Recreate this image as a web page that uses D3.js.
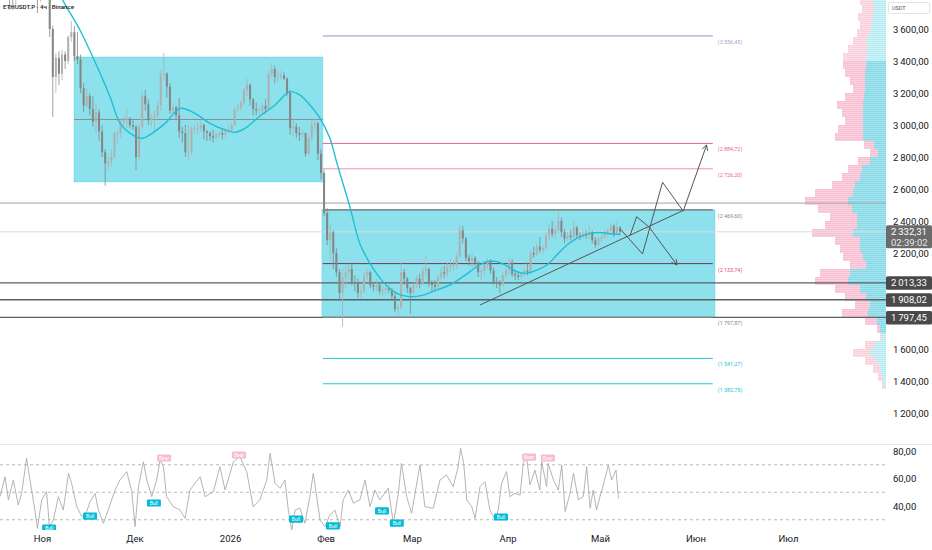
<!DOCTYPE html>
<html>
<head>
<meta charset="utf-8">
<script src="https://cdn.jsdelivr.net/npm/d3@7"></script>
<style>
  body { margin: 0; background: #fff; }
  svg { display: block; font-family: Roboto, "Noto Sans", sans-serif; }
</style>
</head>
<body>
<div class="main"></div>
<script>
// ---- données ----
const baseDate = new Date(2025, 10, 1);     // 1 nov. 2025 (jour 0 des dessins)
const candleStart = new Date(2025, 9, 18);  // premier chandelier (jour 0 des bougies)

// bougies journalières : plus haut / plus bas / clôture
const highs = [
  3950,4000,4050,4100,3900,3900,3960,3960,4180,4250,
  4150,4030,3910,3900,3900,3920,3850,3620,3450,3460,
  3470,3460,3560,3650,3620,3580,3440,3260,3230,3200,
  3180,3130,3100,3000,2850,2800,2850,2960,2970,3040,
  3060,3100,3050,3030,3000,3010,3210,3220,3160,3070,
  3090,3150,3340,3450,3330,3260,3140,3120,3170,2990,
  3000,3000,2990,3000,3020,3030,3010,2970,2960,2970,
  2950,2960,2980,2980,3000,3010,3110,3130,3150,3230,
  3290,3260,3170,3140,3110,3140,3160,3340,3390,3370,
  3340,3340,3330,3300,3220,3040,3010,2990,2970,2950,
  2940,3030,3040,3020,2850,2720,2480,2380,2340,2230,
  2100,2100,2120,2130,2140,2060,2040,2000,2080,2100,
  2090,2020,2040,2010,1990,2000,1990,1980,1960,1880,
  2140,2100,2050,1990,2010,2060,2070,2110,2180,2110,
  2030,2030,2060,2110,2120,2140,2160,2150,2200,2380,
  2370,2300,2190,2200,2180,2150,2110,2150,2170,2160,
  2110,2050,2030,2080,2110,2170,2160,2090,2080,2080,
  2110,2140,2220,2240,2260,2300,2250,2330,2380,2400,
  2370,2460,2420,2350,2330,2340,2400,2370,2330,2340,
  2340,2370,2340,2300,2300,2320,2340,2350,2390,2380,
  2400,2370
];
const lows = [
  3850,3850,3900,3720,3720,3750,3830,3880,3920,4100,
  3930,3870,3700,3770,3840,3800,3550,3050,3200,3250,
  3280,3350,3380,3520,3400,3380,3200,3080,3110,3060,
  2990,2950,2900,2800,2620,2720,2740,2790,2880,2920,
  2990,2980,2980,2970,2720,2780,2980,3090,3000,2990,
  2950,3030,3090,3280,3170,3070,3070,3040,2920,2890,
  2800,2780,2810,2950,2940,2960,2910,2900,2900,2890,
  2910,2920,2910,2920,2950,2960,2990,3080,3090,3120,
  3180,3120,3060,3060,3070,3070,3070,3090,3300,3260,
  3270,3280,3280,3180,2940,2930,2920,2900,2920,2800,
  2810,2900,2970,2780,2660,2430,2250,2150,2100,2050,
  1900,1740,1980,2030,2000,1960,1920,1920,1950,2030,
  1980,1960,1960,1940,1930,1940,1950,1900,1830,1800,
  1850,2000,1950,1820,1940,1980,1980,2000,2060,1990,
  1960,1960,1980,2030,2040,2050,2080,2090,2100,2170,
  2260,2150,2120,2110,2120,2050,2030,2060,2100,2070,
  2000,1980,1950,1990,2040,2060,2050,2030,2030,2040,
  2050,2060,2080,2170,2180,2200,2190,2220,2280,2300,
  2290,2320,2300,2260,2270,2280,2290,2290,2280,2290,
  2290,2290,2260,2230,2240,2270,2290,2300,2320,2300,
  2320,2310
];
const closes = [
  3890,3980,3970,3880,3800,3860,3930,3940,4150,4120,
  3980,3900,3800,3850,3880,3830,3600,3300,3420,3320,
  3440,3400,3550,3580,3430,3410,3230,3120,3180,3100,
  3020,3080,2960,2830,2760,2770,2800,2950,2950,3020,
  3030,3040,3000,2990,2800,2990,3180,3130,3030,3050,
  3060,3120,3320,3320,3240,3090,3110,3060,2960,2950,
  2830,2830,2980,2980,2980,3000,2960,2950,2930,2920,
  2940,2950,2940,2970,2970,3000,3100,3110,3140,3220,
  3250,3160,3100,3090,3090,3120,3100,3320,3350,3300,
  3300,3310,3290,3200,2980,2990,2950,2940,2950,2820,
  2920,3000,3010,2820,2700,2450,2280,2330,2200,2080,
  1950,2050,2080,2100,2020,2010,1950,1960,2060,2080,
  2000,1990,2000,1960,1970,1980,1970,1930,1850,1860,
  2080,2040,1980,1950,2000,2040,2010,2090,2100,2010,
  2000,1990,2050,2080,2070,2110,2120,2130,2180,2340,
  2290,2170,2150,2170,2140,2080,2090,2130,2150,2090,
  2020,2010,2000,2060,2090,2140,2070,2060,2050,2070,
  2090,2080,2200,2190,2240,2220,2230,2310,2350,2320,
  2340,2400,2330,2290,2310,2300,2360,2310,2300,2320,
  2310,2330,2280,2250,2290,2300,2320,2340,2370,2320,
  2360,2332.31
];
const firstOpen = 3900;

// moyenne mobile (courbe cyan) : jour depuis le 1 nov., valeur
const maDays   = [5, 6.5, 12.3, 18.8, 22.1, 25.3, 29.5, 32.4, 35.7, 39.9, 44.8, 49.6, 54.5, 59.4, 62.6, 65.8, 70.7, 75.6, 80.4, 83.7, 86.9, 90.2, 93.4, 95.7, 99.9, 103.1, 106.4, 110.6, 115.1, 119.4, 123.6, 128.1, 132.3, 136.6, 141.1, 144.3, 147.6, 150.8, 154.1, 157.3, 160.6, 163.8, 167, 170.3, 173.5, 177.8, 182, 185.2, 187.5];
const maValues = [3880, 3790, 3594, 3325, 3175, 3012, 2937, 2917, 2948, 3010, 3104, 3073, 3010, 2969, 2954, 2979, 3056, 3125, 3208, 3187, 3125, 3042, 2917, 2760, 2487, 2260, 2135, 2021, 1948, 1927, 1937, 1969, 2000, 2052, 2115, 2146, 2146, 2119, 2083, 2073, 2094, 2125, 2187, 2250, 2292, 2323, 2327, 2317, 2317];

// RSI : jour depuis le 18 oct., valeur
const rsiDays = [0.4,2,3.1,4.7,6.3,7.4,9,10.1,11.7,12.5,13.9,15.5,16.4,17.7,19.3,20.9,22.6,23.6,25.3,26.9,28.5,29.6,31.2,32.3,33.9,35.5,37.7,39.3,41.5,43.1,44.2,45.3,46.9,48,49.6,51.2,52.3,53.4,54.4,56.6,58.8,60.4,62,65.3,66.9,69.6,71.7,73.4,76.1,78.2,80.4,82.5,84.7,86.9,88,89.6,91.2,92.8,93.9,95,96.1,97.7,99.3,100.9,102,103.1,104.2,105.8,107.4,109,110.7,111.7,113.4,115,117.1,118.8,120.4,122,123.6,126.3,128,129.6,130.6,132.3,133.9,136.6,138.2,140.9,143.1,145.2,147.4,149,149.8,150.8,151.8,153.4,154.5,156.1,157.7,159.3,161,162,163.1,164.7,165.8,167.4,169.1,170.1,171.2,172.3,173.9,175.5,176.1,177.7,178.2,179.9,181.5,182.6,183.7,185.3,186.4,188,189.6,190.7,191.8,192.8,193.9,195,196.1,197.7,198.8,200.2,201];
const rsiValues = [46.8,61.3,44.4,58.9,40.7,49.2,74.7,58.9,37.1,23.8,44.4,50.4,25,29.8,46.8,37.1,63.8,56.5,39.5,32.3,35.9,43.2,49.2,37.1,27.4,37.1,51.6,58.9,65,50.4,25,54.1,72.2,58.9,46.8,58.9,73.5,68.6,46.8,39.5,37.1,31,51.6,61.3,46.8,50.4,68.6,51.6,72.2,75.9,65,39.5,44.4,58.9,78.3,56.5,52.9,58.9,37.1,22.5,37.1,38.3,27.4,46.8,63.8,46.8,29.8,25,33.5,37.1,25,44.4,51.6,42,44.4,58.9,39.5,51.6,44.4,52.9,27.4,49.2,71,46.8,34.7,69.8,39.5,38.3,58.9,62.6,54.1,68.6,82,71,44.4,39.5,31,54.1,57.7,37.1,29.8,37.1,56.5,65,46.8,49.2,48,71,75.9,55.3,66.2,51.6,72.2,54.1,71,58.9,51.6,69.8,35.9,49.2,63.8,44.4,46.8,68.6,38.3,51.6,37.1,46.8,55.3,69.8,58.9,66.2,45.6];

// étiquettes Bull / Bear du RSI : jour depuis le 1 nov., niveau
const divLabels = [
  { type: "Bull", day: 2.3,   level: 24   },
  { type: "Bull", day: 15.6,  level: 32.7 },
  { type: "Bull", day: 36.3,  level: 42.2 },
  { type: "Bear", day: 39.6,  level: 74.9 },
  { type: "Bear", day: 63.9,  level: 77.1 },
  { type: "Bull", day: 82.4,  level: 30.5 },
  { type: "Bull", day: 94.4,  level: 25.5 },
  { type: "Bull", day: 110.3, level: 36.4 },
  { type: "Bull", day: 115.1, level: 27.6 },
  { type: "Bull", day: 148.9, level: 32   },
  { type: "Bear", day: 158,   level: 75.6 },
  { type: "Bear", day: 164.1, level: 74.9 }
];

// rectangles (jour début, jour fin, haut, bas)
const boxes = [
  { d0: 10.4, d1: 91.1,  top: 3425,   bottom: 2644,    mid: true  },
  { d0: 90.8, d1: 218.3, top: 2469.6, bottom: 1797.87, mid: false }
];

// niveaux de Fibonacci
const fibStart = 91.1, fibEnd = 217.6;
const fibLevels = [3556.45, 2884.72, 2726.20, 2469.60, 2133.74, 1797.87, 1541.27, 1382.75];
const fibColors = ["#9b8fd3", "#f06292", "#f48fb1", "#6f6f6f", "#7a3552", "#8a8a8a", "#26c6da", "#26c6da"];
const fibLabelColors = ["#a9a3cf", "#f06292", "#f06292", "#8a8a8a", "#e0507a", "#8a8a8a", "#26c6da", "#26c6da"];

// lignes horizontales sur toute la largeur
const hLines = [2512, 2332.31, 2013.33, 1908.02, 1797.45];
const hLineColors = ["#a3a3a3", "#dcdcdc", "#5f5f5f", "#5f5f5f", "#5f5f5f"];

// ligne de tendance et scénarios
const trendLine = [[142.1, 1875], [207.9, 2465]];
const bullPath  = [[187.7, 2348], [194.8, 2194], [201.3, 2642], [208, 2462], [215.6, 2875]];
const bearPath  = [[190.7, 2306], [192.9, 2427], [197, 2361], [206, 2125]];

// profil de volume (prix du palier, volumes achat / vente)
const vpPrices = d3.range(3775, 1374, -50);
const vpBuy  = [13,12,14,14,16,19,19,20,20,21, 21,21,22,23,23,23,23,23,12,8, 16,24,26,31,33,38,34,29,29,33, 26,26,23,20,36,38,26,20,16,18, 9,6,4,11,16,9,6,4,2];
const vpSell = [13,12,14,12,13,14,19,23,23,20, 15,12,19,26,21,18,25,28,10,8, 12,14,18,23,38,43,34,27,32,41, 25,20,20,16,30,33,25,21,15,26, 12,3,2,10,17,12,7,4,2];
const vpValueArea = [1725, 3375];

// axes (1 800 et 2 000 sont masqués par les étiquettes de prix)
const priceTicks = [1200, 1400, 1600, 2200, 2400, 2600, 2800, 3000, 3200, 3400, 3600];
const rsiTicks = [40, 60, 80];
const rsiGuides = [70, 50, 30];
const timeTicks = [new Date(2025,10,1), new Date(2025,11,1), new Date(2026,0,1), new Date(2026,1,1), new Date(2026,2,1), new Date(2026,3,1), new Date(2026,4,1), new Date(2026,5,1), new Date(2026,6,1)];
const timeLabels = ["Ноя", "Дек", "2026", "Фев", "Мар", "Апр", "Май", "Июн", "Июл"];

// étiquettes de prix à droite
const priceTags = [
  { price: 2332.31, sub: "02:39:02", fill: "#6b6b6b" },
  { price: 2013.33, fill: "#4a4a4a" },
  { price: 1908.02, fill: "#4a4a4a" },
  { price: 1797.45, fill: "#4a4a4a" }
];

// ---- mise en page ----
const width = 932, height = 550;
const paneRight = 886;
const priceBottom = 443, rsiTop = 446, rsiBottom = 530;

const ru = d3.formatLocale({ decimal: ",", thousands: "\u2009", grouping: [3], currency: ["", ""] });
const fmt = ru.format(",.2f");
const day = (base, d) => new Date(base.getTime() + d * 864e5);

const x = d3.scaleTime().domain([new Date(2025,10,1), new Date(2026,6,1)]).range([42, 788]);
const y = d3.scaleLinear().domain([1200, 3600]).range([413, 29]);
const yr = d3.scaleLinear().domain([40, 80]).range([506, 451]);
const vx = d3.scaleLinear().domain([0, 100]).range([0, 100]);

const svg = d3.select('.main').append('svg')
  .attr('width', width).attr('height', height);

const defs = svg.append('defs');
defs.append('clipPath').attr('id', 'clipPrice')
  .append('rect').attr('x', 0).attr('y', 0).attr('width', paneRight).attr('height', priceBottom);
defs.append('clipPath').attr('id', 'clipRsi')
  .append('rect').attr('x', 0).attr('y', rsiTop).attr('width', paneRight).attr('height', rsiBottom - rsiTop);

// motifs rayés du profil de volume
function stripe(id, base, light) {
  const p = defs.append('pattern').attr('id', id).attr('patternUnits', 'userSpaceOnUse')
    .attr('width', 4).attr('height', 2);
  p.append('rect').attr('width', 4).attr('height', 2).attr('fill', base);
  p.append('rect').attr('width', 4).attr('height', 0.7).attr('fill', light);
}
stripe('vpBuyIn', '#85d9e6', '#b8eaf1');
stripe('vpBuyOut', '#b5ebf2', '#daf5f8');
stripe('vpSellIn', '#f8bfd2', '#fcdbe6');
stripe('vpSellOut', '#fad0dd', '#fde5ec');

const pane = svg.append('g').attr('clip-path', 'url(#clipPrice)');

// rectangles
boxes.forEach(b => {
  pane.append('rect')
    .attr('x', x(day(baseDate, b.d0))).attr('y', y(b.top))
    .attr('width', x(day(baseDate, b.d1)) - x(day(baseDate, b.d0)))
    .attr('height', y(b.bottom) - y(b.top))
    .attr('fill', 'rgba(0,188,212,0.45)')
    .attr('stroke', 'rgba(0,188,212,0.25)');
  if (b.mid) {
    pane.append('line')
      .attr('x1', x(day(baseDate, b.d0))).attr('x2', x(day(baseDate, b.d1)))
      .attr('y1', y((b.top + b.bottom) / 2)).attr('y2', y((b.top + b.bottom) / 2))
      .attr('stroke', '#8c8c8c').attr('stroke-width', 1);
  }
});

// profil de volume
const vp = pane.append('g');
vpPrices.forEach((p, i) => {
  const inside = p >= vpValueArea[0] && p <= vpValueArea[1];
  const top = y(p + 25), h = y(p - 25) - y(p + 25);
  const wb = vx(vpBuy[i]), ws = vx(vpSell[i]);
  vp.append('rect').attr('x', paneRight - wb - ws).attr('y', top).attr('width', ws).attr('height', h)
    .attr('fill', inside ? 'url(#vpSellIn)' : 'url(#vpSellOut)');
  vp.append('rect').attr('x', paneRight - wb).attr('y', top).attr('width', wb).attr('height', h)
    .attr('fill', inside ? 'url(#vpBuyIn)' : 'url(#vpBuyOut)');
});

// lignes horizontales
hLines.forEach((p, i) => {
  pane.append('line').attr('x1', 0).attr('x2', paneRight)
    .attr('y1', y(p)).attr('y2', y(p))
    .attr('stroke', hLineColors[i]).attr('stroke-width', i >= 2 ? 1.4 : 1);
});

// niveaux de Fibonacci
fibLevels.forEach((p, i) => {
  pane.append('line')
    .attr('x1', x(day(baseDate, fibStart))).attr('x2', x(day(baseDate, fibEnd)))
    .attr('y1', y(p)).attr('y2', y(p))
    .attr('stroke', fibColors[i]).attr('stroke-width', (i === 3) ? 1.4 : 1);
  pane.append('text')
    .attr('x', x(day(baseDate, fibEnd)) + 5).attr('y', y(p) + 8)
    .attr('font-size', 5.5).attr('fill', fibLabelColors[i])
    .text('(' + fmt(p) + ')');
});

// bougies
const candles = closes.map((c, i) => ({
  date: day(candleStart, i + 0.5),
  open: i ? closes[i - 1] : firstOpen,
  high: highs[i], low: lows[i], close: c
}));
const cg = pane.append('g');
cg.selectAll('line').data(candles).join('line')
  .attr('x1', d => x(d.date)).attr('x2', d => x(d.date))
  .attr('y1', d => y(d.high)).attr('y2', d => y(d.low))
  .attr('stroke', d => d.close >= d.open ? '#b0b0b0' : '#858585')
  .attr('stroke-width', 0.8);
cg.selectAll('rect').data(candles).join('rect')
  .attr('x', d => x(d.date) - 1).attr('width', 2)
  .attr('y', d => y(Math.max(d.open, d.close)))
  .attr('height', d => Math.max(0.8, Math.abs(y(d.open) - y(d.close))))
  .attr('fill', d => d.close >= d.open ? '#b0b0b0' : '#858585');

// moyenne mobile
const maLine = d3.line()
  .x((d, i) => x(day(baseDate, maDays[i])))
  .y(d => y(d))
  .curve(d3.curveCatmullRom);
pane.append('path').datum(maValues)
  .attr('fill', 'none').attr('stroke', '#1fbfd6').attr('stroke-width', 1.4)
  .attr('d', maLine);

// tendance et scénarios
const drawLine = d3.line().x(d => x(day(baseDate, d[0]))).y(d => y(d[1]));
[trendLine, bullPath, bearPath].forEach(pts => {
  pane.append('path').datum(pts)
    .attr('fill', 'none').attr('stroke', '#555').attr('stroke-width', 1)
    .attr('d', drawLine);
});
function arrowHead(pts) {
  const a = pts[pts.length - 2], b = pts[pts.length - 1];
  const x1 = x(day(baseDate, a[0])), y1 = y(a[1]);
  const x2 = x(day(baseDate, b[0])), y2 = y(b[1]);
  const ang = Math.atan2(y2 - y1, x2 - x1), L = 6;
  const p = d3.path();
  p.moveTo(x2 - L * Math.cos(ang - 0.5), y2 - L * Math.sin(ang - 0.5));
  p.lineTo(x2, y2);
  p.lineTo(x2 - L * Math.cos(ang + 0.5), y2 - L * Math.sin(ang + 0.5));
  pane.append('path').attr('d', p.toString()).attr('fill', 'none')
    .attr('stroke', '#555').attr('stroke-width', 1);
}
arrowHead(bullPath);
arrowHead(bearPath);

// légende en haut à gauche
svg.append('text').attr('x', 3).attr('y', 9)
  .attr('font-size', 6.2).attr('font-weight', 500).attr('fill', '#131722')
  .text('ETHUSDT.P · 4ч · Binance');

// séparation des panneaux
svg.append('line').attr('x1', 0).attr('x2', width).attr('y1', 444.5).attr('y2', 444.5)
  .attr('stroke', '#e6e8ee');

// ---- RSI ----
const rsiPane = svg.append('g').attr('clip-path', 'url(#clipRsi)');
rsiGuides.forEach(v => {
  rsiPane.append('line').attr('x1', 0).attr('x2', paneRight)
    .attr('y1', yr(v)).attr('y2', yr(v))
    .attr('stroke', '#b9b9b9').attr('stroke-dasharray', '3,3');
});
const rsiLine = d3.line()
  .x((d, i) => x(day(candleStart, rsiDays[i])))
  .y(d => yr(d));
rsiPane.append('path').datum(rsiValues)
  .attr('fill', 'none').attr('stroke', '#acacac').attr('stroke-width', 0.9)
  .attr('d', rsiLine);
const lab = rsiPane.selectAll('g.div').data(divLabels).join('g')
  .attr('transform', d => `translate(${x(day(baseDate, d.day))},${yr(d.level)})`);
lab.append('rect').attr('x', -7).attr('y', -3.6).attr('width', 14).attr('height', 7.2).attr('rx', 1.2)
  .attr('fill', d => d.type === 'Bull' ? '#00bcd4' : '#f8bbd0');
lab.append('text').attr('text-anchor', 'middle').attr('y', 1.8)
  .attr('font-size', 5).attr('fill', '#fff')
  .text(d => d.type);

// ---- axes ----
const ax = svg.append('g').attr('transform', 'translate(0,535.5)')
  .call(d3.axisBottom(x).tickValues(timeTicks).tickFormat((d, i) => timeLabels[i]).tickSize(0).tickPadding(0));
ax.select('.domain').remove();
ax.selectAll('text').attr('font-size', 9.5).attr('fill', '#131722').attr('font-family', 'Roboto, sans-serif');

const ay = svg.append('g').attr('transform', `translate(${paneRight},0)`)
  .call(d3.axisRight(y).tickValues(priceTicks).tickFormat(fmt).tickSize(0).tickPadding(7));
ay.select('.domain').remove();
ay.selectAll('text').attr('font-size', 9.5).attr('fill', '#131722').attr('font-family', 'Roboto, sans-serif');

const ar = svg.append('g').attr('transform', `translate(${paneRight},0)`)
  .call(d3.axisRight(yr).tickValues(rsiTicks).tickFormat(fmt).tickSize(0).tickPadding(7));
ar.select('.domain').remove();
ar.selectAll('text').attr('font-size', 9.5).attr('fill', '#131722').attr('font-family', 'Roboto, sans-serif');

// étiquette USDT
svg.append('rect').attr('x', 888.5).attr('y', 2.5).attr('width', 41).attr('height', 11).attr('rx', 1.5)
  .attr('fill', '#fff').attr('stroke', '#e3e5ea');
svg.append('text').attr('x', 892).attr('y', 10.2).attr('font-size', 5.5).attr('fill', '#555').text('USDT');

// étiquettes de prix
priceTags.forEach(t => {
  const h = t.sub ? 23 : 13.5;
  const top = y(t.price) - 6.5;
  svg.append('rect').attr('x', paneRight).attr('y', top).attr('width', width - paneRight).attr('height', h)
    .attr('rx', 1.5).attr('fill', t.fill);
  svg.append('text').attr('x', paneRight + 5).attr('y', y(t.price) + 3.4)
    .attr('font-size', 9.5).attr('fill', '#fff').text(fmt(t.price));
  if (t.sub) {
    svg.append('text').attr('x', paneRight + 5).attr('y', y(t.price) + 14.2)
      .attr('font-size', 9.5).attr('fill', '#e8e8e8').text(t.sub);
  }
});
</script>
</body>
</html>
